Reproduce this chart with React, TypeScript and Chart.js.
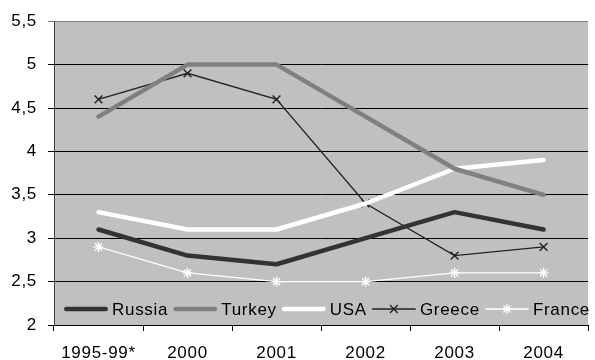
import React, { useEffect, useRef } from 'react';
import { Chart, registerables } from 'chart.js';

Chart.register(...registerables);

const categories = ['1995-99*', '2000', '2001', '2002', '2003', '2004'];
const russia = [3.1, 2.8, 2.7, 3.0, 3.3, 3.1];
const turkey = [4.4, 5.0, 5.0, 4.4, 3.8, 3.5];
const usa = [3.3, 3.1, 3.1, 3.4, 3.8, 3.9];
const greece = [4.6, 4.9, 4.6, 3.4, 2.8, 2.9];
const france = [2.9, 2.6, 2.5, 2.5, 2.6, 2.6];
const yMin = 2;
const yMax = 5.5;
const yStep = 0.5;

const FONT = 'Arial, "Liberation Sans", sans-serif';
const SPACING = '0.7px';

const bgPlugin = {
  id: 'plotBg',
  beforeUpdate(chart: any) {
    chart.ctx.letterSpacing = SPACING;
  },
  beforeDraw(chart: any) {
    const ctx = chart.ctx;
    const a = chart.chartArea;
    ctx.letterSpacing = SPACING;
    ctx.save();
    ctx.fillStyle = '#ffffff';
    ctx.fillRect(0, 0, chart.width, chart.height);
    ctx.fillStyle = '#C0C0C0';
    ctx.fillRect(a.left, a.top, a.right - a.left, a.bottom - a.top);
    ctx.restore();
  },
};

function drawMarker(ctx: CanvasRenderingContext2D, style: string, x: number, y: number, r: number) {
  ctx.beginPath();
  const d = r * Math.SQRT1_2;
  ctx.moveTo(x - d, y - d);
  ctx.lineTo(x + d, y + d);
  ctx.moveTo(x - d, y + d);
  ctx.lineTo(x + d, y - d);
  if (style === 'star') {
    ctx.moveTo(x, y - r);
    ctx.lineTo(x, y + r);
    ctx.moveTo(x - r, y);
    ctx.lineTo(x + r, y);
  }
  ctx.stroke();
}

const legendPlugin = {
  id: 'insideLegend',
  afterDatasetsDraw(chart: any) {
    const ctx = chart.ctx as CanvasRenderingContext2D;
    const a = chart.chartArea;
    ctx.save();
    ctx.font = `17px ${FONT}`;
    (ctx as any).letterSpacing = SPACING;
    ctx.textBaseline = 'middle';
    ctx.textAlign = 'left';
    const lineLen = 44;
    const gapText = 4;
    const ds = chart.data.datasets;
    const widths = ds.map((d: any) => ctx.measureText(d.label).width);
    const startX = a.left + 10;
    const endX = 590;
    let content = 0;
    ds.forEach((d: any, i: number) => {
      content += lineLen + gapText + widths[i];
    });
    const gapItem = (endX - startX - content) / (ds.length - 1);
    let x = startX;
    const y = a.bottom - 16;
    ds.forEach((d: any, i: number) => {
      ctx.strokeStyle = d.borderColor;
      ctx.lineWidth = d.borderWidth;
      ctx.lineCap = 'round';
      ctx.beginPath();
      ctx.moveTo(x + d.borderWidth / 2, y);
      ctx.lineTo(x + lineLen - d.borderWidth / 2, y);
      ctx.stroke();
      if (d.pointStyle === 'crossRot' || d.pointStyle === 'star') {
        ctx.lineCap = 'butt';
        ctx.strokeStyle = d.pointBorderColor;
        ctx.lineWidth = d.pointBorderWidth;
        drawMarker(ctx, d.pointStyle, x + lineLen / 2, y, d.pointRadius);
      }
      x += lineLen + gapText;
      ctx.fillStyle = '#000';
      ctx.fillText(d.label, x, y + 1);
      x += widths[i] + gapItem;
    });
    ctx.restore();
  },
};

export default function App() {
  const ref = useRef<HTMLCanvasElement>(null);

  useEffect(() => {
    if (!ref.current) return;
    const thick = {
      borderWidth: 4.5,
      pointRadius: 0,
      pointHoverRadius: 0,
      borderCapStyle: 'round' as const,
      borderJoinStyle: 'round' as const,
      fill: false,
      tension: 0,
    };
    const chart = new Chart(ref.current, {
      type: 'line',
      data: {
        labels: categories,
        datasets: [
          { label: 'Russia', data: russia, borderColor: '#333333', backgroundColor: '#333333', ...thick },
          { label: 'Turkey', data: turkey, borderColor: '#808080', backgroundColor: '#808080', ...thick },
          { label: 'USA', data: usa, borderColor: '#ffffff', backgroundColor: '#ffffff', ...thick },
          {
            label: 'Greece',
            data: greece,
            borderColor: '#222222',
            backgroundColor: '#222222',
            borderWidth: 1.3,
            pointStyle: 'crossRot',
            pointRadius: 5.5,
            pointBorderColor: '#222222',
            pointBorderWidth: 1.4,
            fill: false,
            tension: 0,
          } as any,
          {
            label: 'France',
            data: france,
            borderColor: '#ffffff',
            backgroundColor: '#ffffff',
            borderWidth: 1.3,
            pointStyle: 'star',
            pointRadius: 5,
            pointBorderColor: '#ffffff',
            pointBorderWidth: 1.4,
            fill: false,
            tension: 0,
          } as any,
        ],
      },
      options: {
        responsive: false,
        animation: false,
        events: [],
        layout: { padding: { top: 19, right: 0, left: 0, bottom: 0 } },
        plugins: {
          legend: { display: false },
          tooltip: { enabled: false },
        },
        scales: {
          x: {
            offset: true,
            grid: { offset: true, drawOnChartArea: false, color: '#000', tickLength: 6, lineWidth: 1 },
            border: { color: '#000', width: 1 },
            ticks: { font: { family: FONT, size: 17 }, color: '#000', padding: 12, maxRotation: 0, autoSkip: false },
            afterFit: (s: any) => {
              s.height = 35;
            },
          },
          y: {
            min: yMin,
            max: yMax,
            ticks: {
              stepSize: yStep,
              font: { family: FONT, size: 17 },
              color: '#000',
              padding: 11,
              callback: (v: any) => String(v).replace('.', ','),
            },
            grid: {
              color: (c: any) => (c.tick && c.tick.value === yMax ? '#808080' : '#000'),
              lineWidth: 1,
              tickLength: 6,
            },
            border: { color: '#404040', width: 1 },
            afterFit: (s: any) => {
              s.width = 54;
            },
          },
        },
      },
      plugins: [bgPlugin, legendPlugin],
    } as any);
    return () => chart.destroy();
  }, []);

  return (
    <div style={{ position: 'absolute', left: 0, top: 0, width: 595, height: 360, background: '#fff' }}>
      <canvas ref={ref} width={595} height={360} style={{ display: 'block', width: 595, height: 360 }} />
    </div>
  );
}
